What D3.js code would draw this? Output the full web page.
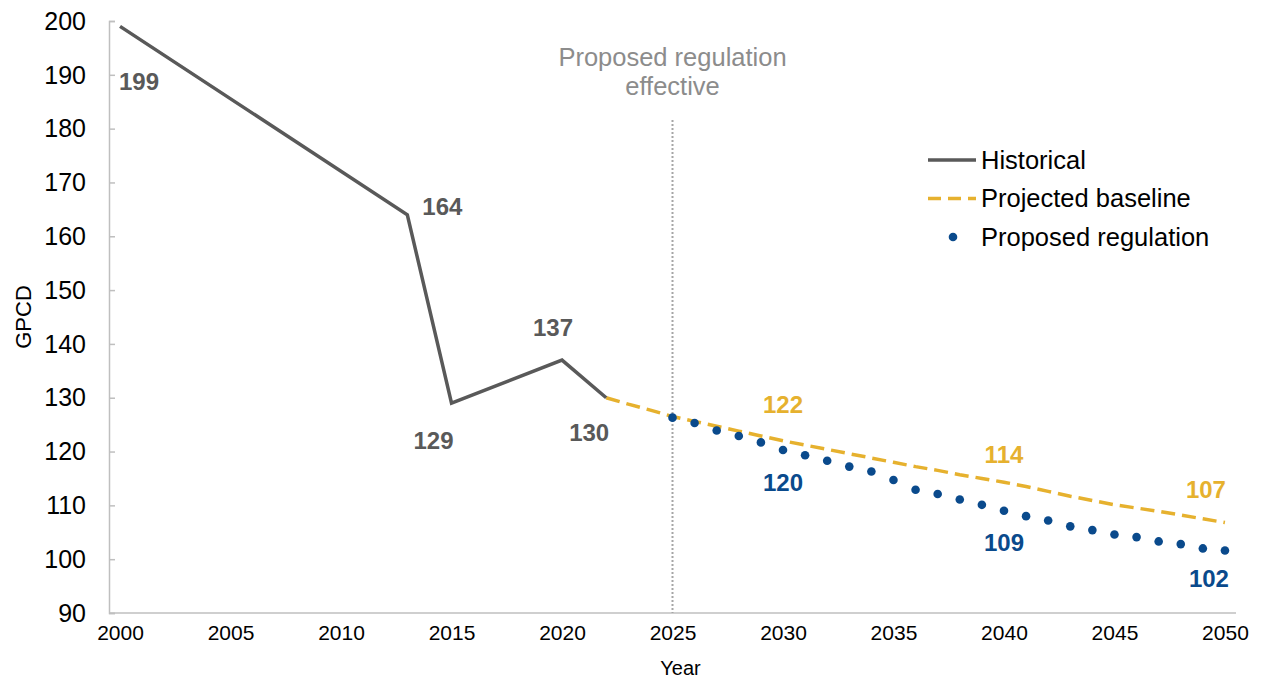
<!DOCTYPE html>
<html>
<head>
<meta charset="utf-8">
<script src="https://cdn.jsdelivr.net/npm/d3@7"></script>
<style>
  body { margin: 0; background: #fff; }
  svg { font-family: "Liberation Sans", Arial, sans-serif; display: block; }
</style>
</head>
<body>
<div id="chart"></div>
<script>
// historical GPCD
var histYears = [2000, 2013, 2015, 2020, 2022];
var histValues = [199, 164, 129, 137, 130];

// projected baseline 2022-2050
var baseYears = d3.range(2022, 2051);
var baseValues = [130, 128.8, 127.7, 126.5, 125.6, 124.7, 123.8, 122.9, 122.0, 121.2,
  120.4, 119.6, 118.8, 118.0, 117.2, 116.5, 115.7, 115.0, 114.3, 113.5,
  112.6, 111.7, 110.9, 110.1, 109.5, 108.9, 108.2, 107.5, 106.8];

// proposed regulation 2025-2050
var regYears = d3.range(2025, 2051);
var regValues = [126.3, 125.3, 123.9, 122.9, 121.7, 120.3, 119.3, 118.3, 117.2, 116.3,
  114.7, 112.9, 112.1, 111.1, 110.1, 109.0, 108.0, 107.2, 106.1, 105.4,
  104.6, 104.1, 103.3, 102.8, 102.0, 101.6];

var yTicks = [90, 100, 110, 120, 130, 140, 150, 160, 170, 180, 190, 200];
var xTicks = [2000, 2005, 2010, 2015, 2020, 2025, 2030, 2035, 2040, 2045, 2050];

var legendNames = ["Historical", "Projected baseline", "Proposed regulation"];
var effectiveYear = 2025;

// data labels: series, year, value, text
var labelSeries = ["hist", "hist", "hist", "hist", "hist", "base", "reg", "base", "reg", "base", "reg"];
var labelYears = [2000, 2013, 2015, 2020, 2022, 2030, 2030, 2040, 2040, 2050, 2050];
var labelValues = [199, 164, 129, 137, 130, 122, 120.3, 114.3, 109, 106.8, 101.6];
var labelTexts = ["199", "164", "129", "137", "130", "122", "120", "114", "109", "107", "102"];

var width = 1261, height = 679;
var plot = { left: 109, right: 1236, top: 21, bottom: 613 };

var colors = { hist: "#595959", base: "#E6B12E", reg: "#0A4A8C" };

// label offsets (px) from their data point
var labelOffsets = [[19, 55], [35, -8], [-18, 37], [-9, -32], [-17, 35], [0, -36], [0, 33], [0, -28], [0, 32], [-19, -33], [-16, 28]];

var svg = d3.select("#chart").append("svg")
  .attr("width", width)
  .attr("height", height);

var x = d3.scalePoint()
  .domain(d3.range(2000, 2051))
  .range([plot.left, plot.right])
  .padding(0.5);

var y = d3.scaleLinear()
  .domain([90, 200])
  .range([plot.bottom, plot.top]);

// axes
var yAxis = svg.append("g")
  .attr("transform", "translate(" + plot.left + ",0)")
  .call(d3.axisRight(y).tickValues(yTicks).tickSize(6).tickFormat(""));
yAxis.select(".domain").attr("stroke", "#BFBFBF").attr("stroke-width", 1.5);
yAxis.selectAll(".tick line").attr("stroke", "#BFBFBF").attr("stroke-width", 1.5);

svg.append("g").selectAll("text")
  .data(yTicks)
  .enter().append("text")
  .attr("x", 86)
  .attr("y", function (d) { return y(d); })
  .attr("dy", "0.35em")
  .attr("text-anchor", "end")
  .attr("font-size", 25)
  .attr("fill", "#000")
  .text(function (d) { return d; });

var xAxis = svg.append("g")
  .attr("transform", "translate(0," + plot.bottom + ")")
  .call(d3.axisBottom(x).tickValues(xTicks).tickSize(0).tickPadding(12));
xAxis.select(".domain").attr("stroke", "#BFBFBF").attr("stroke-width", 1.5)
  .attr("d", "M" + plot.left + ",0H" + plot.right);
xAxis.selectAll(".tick text")
  .attr("font-size", 21)
  .attr("font-family", "Liberation Sans, Arial, sans-serif")
  .attr("fill", "#000");

svg.append("text")
  .attr("x", (plot.left + plot.right) / 2 + 8)
  .attr("y", 675)
  .attr("text-anchor", "middle")
  .attr("font-size", 20)
  .text("Year");

svg.append("text")
  .attr("transform", "translate(31,317) rotate(-90)")
  .attr("text-anchor", "middle")
  .attr("font-size", 22)
  .text("GPCD");

// effective date marker
svg.append("line")
  .attr("x1", x(effectiveYear)).attr("x2", x(effectiveYear))
  .attr("y1", 120).attr("y2", plot.bottom)
  .attr("stroke", "#A6A6A6")
  .attr("stroke-width", 2)
  .attr("stroke-dasharray", "2,2");

svg.append("text")
  .attr("x", x(effectiveYear))
  .attr("text-anchor", "middle")
  .attr("font-size", 25.5)
  .attr("fill", "#8C8C8C")
  .selectAll("tspan")
  .data(["Proposed regulation", "effective"])
  .enter().append("tspan")
  .attr("x", x(effectiveYear))
  .attr("y", function (d, i) { return 66 + i * 29; })
  .text(function (d) { return d; });

var line = d3.line()
  .x(function (d) { return x(d[0]); })
  .y(function (d) { return y(d[1]); });

svg.append("path")
  .datum(d3.zip(baseYears, baseValues))
  .attr("d", line)
  .attr("fill", "none")
  .attr("stroke", colors.base)
  .attr("stroke-width", 3.5)
  .attr("stroke-dasharray", "14,7");

svg.append("path")
  .datum(d3.zip(histYears, histValues))
  .attr("d", line)
  .attr("fill", "none")
  .attr("stroke", colors.hist)
  .attr("stroke-width", 3.5)
  .attr("stroke-linejoin", "miter");

svg.append("g").selectAll("circle")
  .data(d3.zip(regYears, regValues))
  .enter().append("circle")
  .attr("cx", function (d) { return x(d[0]); })
  .attr("cy", function (d) { return y(d[1]); })
  .attr("r", 4.3)
  .attr("fill", colors.reg);

// data labels
svg.append("g").selectAll("text")
  .data(labelTexts)
  .enter().append("text")
  .attr("x", function (d, i) { return x(labelYears[i]) + labelOffsets[i][0]; })
  .attr("y", function (d, i) { return y(labelValues[i]) + labelOffsets[i][1]; })
  .attr("dy", "0.35em")
  .attr("text-anchor", "middle")
  .attr("font-size", 24)
  .attr("font-weight", "bold")
  .attr("fill", function (d, i) { return colors[labelSeries[i]]; })
  .text(function (d) { return d; });

// legend
var legend = svg.append("g").attr("transform", "translate(928,160)");
var legRow = legend.selectAll("g")
  .data(legendNames)
  .enter().append("g")
  .attr("transform", function (d, i) { return "translate(0," + (i * 38.5) + ")"; });

legRow.append("text")
  .attr("x", 53)
  .attr("dy", "0.35em")
  .attr("font-size", 25.5)
  .attr("fill", "#000")
  .text(function (d) { return d; });

legRow.filter(function (d, i) { return i < 2; })
  .append("line")
  .attr("x1", 0).attr("x2", 48)
  .attr("stroke", function (d, i) { return i === 0 ? colors.hist : colors.base; })
  .attr("stroke-width", 3.5)
  .attr("stroke-dasharray", function (d, i) { return i === 0 ? null : "13,7"; });

legRow.filter(function (d, i) { return i === 2; })
  .append("circle")
  .attr("cx", 25)
  .attr("r", 4.3)
  .attr("fill", colors.reg);
</script>
</body>
</html>
